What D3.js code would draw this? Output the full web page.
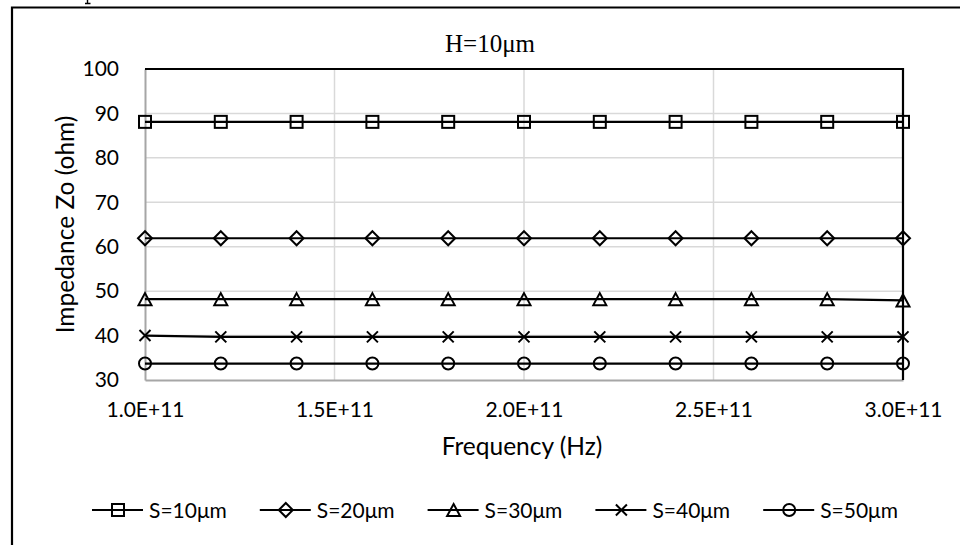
<!DOCTYPE html>
<html>
<head>
<meta charset="utf-8">
<script src="https://cdn.jsdelivr.net/npm/d3@7"></script>
<style>
  html, body { margin: 0; padding: 0; background: #fff; }
  svg { display: block; }
</style>
</head>
<body>
<svg id="chart" width="960" height="545"></svg>
<script>
// Frequency sweep points (Hz)
const frequencies = [1.0e11, 1.2e11, 1.4e11, 1.6e11, 1.8e11, 2.0e11, 2.2e11, 2.4e11, 2.6e11, 2.8e11, 3.0e11];

// Characteristic impedance (ohm) for each trace spacing S at H=10μm
const seriesNames = ["S=10μm", "S=20μm", "S=30μm", "S=40μm", "S=50μm"];
const s10 = [88.1, 88.1, 88.1, 88.1, 88.1, 88.1, 88.1, 88.1, 88.1, 88.1, 88.1];
const s20 = [61.9, 61.9, 61.9, 61.9, 61.9, 61.9, 61.9, 61.9, 61.9, 61.9, 61.9];
const s30 = [48.2, 48.2, 48.2, 48.2, 48.2, 48.2, 48.2, 48.2, 48.2, 48.2, 47.9];
const s40 = [40.0, 39.7, 39.7, 39.7, 39.7, 39.7, 39.7, 39.7, 39.7, 39.7, 39.7];
const s50 = [33.7, 33.7, 33.7, 33.7, 33.7, 33.7, 33.7, 33.7, 33.7, 33.7, 33.7];
const seriesValues = [s10, s20, s30, s40, s50];
const markerShapes = ["square", "diamond", "triangle", "cross", "circle"];

// Axis ticks
const yTicks = [30, 40, 50, 60, 70, 80, 90, 100];
const xTicks = [1.0e11, 1.5e11, 2.0e11, 2.5e11, 3.0e11];
const xTickLabels = ["1.0E+11", "1.5E+11", "2.0E+11", "2.5E+11", "3.0E+11"];

const titleText = "H=10μm";
const xTitle = "Frequency (Hz)";
const yTitle = "Impedance Zo (ohm)";

const svg = d3.select("#chart");
const sans = "Lato, 'Open Sans', sans-serif";

const plot = { left: 145, right: 903, top: 69, bottom: 380 };
const x = d3.scaleLinear().domain([1.0e11, 3.0e11]).range([plot.left, plot.right]);
const y = d3.scaleLinear().domain([30, 100]).range([plot.bottom, plot.top]);

// Outer chart frame (left and top edges)
svg.append("path")
  .attr("d", "M12,545 L12,7.5 L960,7.5")
  .attr("fill", "none").attr("stroke", "#000").attr("stroke-width", 2.2);

// Tail of a glyph from the caption line above the frame
svg.append("path")
  .attr("d", "M87.5,0 L87.5,3.5 M85,3.5 L90.5,3.5")
  .attr("fill", "none").attr("stroke", "#000").attr("stroke-width", 1.4);

// Chart title
svg.append("text").attr("x", 490).attr("y", 52)
  .attr("text-anchor", "middle")
  .attr("font-family", "'Liberation Serif', 'Times New Roman', serif")
  .attr("font-size", 25).attr("fill", "#000").text(titleText);

// Gridlines
const grid = svg.append("g");
grid.selectAll("line.h").data(yTicks.filter(t => t > 30 && t < 100)).join("line")
  .attr("x1", plot.left).attr("x2", plot.right)
  .attr("y1", d => y(d)).attr("y2", d => y(d))
  .attr("stroke", "#d9d9d9").attr("stroke-width", 1.5);
grid.selectAll("line.v").data(xTicks.slice(1, -1)).join("line")
  .attr("y1", plot.top).attr("y2", plot.bottom)
  .attr("x1", d => x(d)).attr("x2", d => x(d))
  .attr("stroke", "#d9d9d9").attr("stroke-width", 1.5);

// Axes
const yAxis = d3.axisLeft(y).tickValues(yTicks).tickSize(0).tickPadding(26);
const xAxis = d3.axisBottom(x).tickValues(xTicks).tickSize(0).tickPadding(22)
  .tickFormat((d, i) => xTickLabels[i]);

const gy = svg.append("g").attr("transform", `translate(${plot.left},0)`).call(yAxis);
const gx = svg.append("g").attr("transform", `translate(0,${plot.bottom})`).call(xAxis);
[gx, gy].forEach(g => {
  g.select(".domain").attr("stroke", "#a6a6a6").attr("stroke-width", 2);
  g.selectAll("text").attr("font-family", sans).attr("font-size", 21).attr("fill", "#000");
});

// Plot area top and right edges
svg.append("path")
  .attr("d", `M${plot.left},${plot.top} L${plot.right},${plot.top} L${plot.right},${plot.bottom}`)
  .attr("fill", "none").attr("stroke", "#000").attr("stroke-width", 2.2);

// Axis titles
svg.append("text").attr("x", 522).attr("y", 455)
  .attr("text-anchor", "middle").attr("font-family", sans).attr("font-size", 24.5)
  .text(xTitle);
svg.append("text")
  .attr("transform", `translate(74,${(plot.top + plot.bottom) / 2}) rotate(-90)`)
  .attr("text-anchor", "middle").attr("font-family", sans).attr("font-size", 24.5)
  .text(yTitle);

// Marker drawing
function drawMarker(g, shape, cx, cy) {
  const common = sel => sel.attr("fill", "none").attr("stroke", "#000").attr("stroke-width", 2);
  if (shape === "square") {
    common(g.append("rect").attr("x", cx - 6).attr("y", cy - 6).attr("width", 12).attr("height", 12));
  } else if (shape === "diamond") {
    common(g.append("path").attr("d", `M${cx},${cy - 7} L${cx + 7},${cy} L${cx},${cy + 7} L${cx - 7},${cy} Z`));
  } else if (shape === "triangle") {
    common(g.append("path").attr("d", `M${cx},${cy - 6} L${cx + 6.5},${cy + 6} L${cx - 6.5},${cy + 6} Z`));
  } else if (shape === "cross") {
    common(g.append("path").attr("d", `M${cx - 5.5},${cy - 5.5} L${cx + 5.5},${cy + 5.5} M${cx - 5.5},${cy + 5.5} L${cx + 5.5},${cy - 5.5}`));
  } else if (shape === "circle") {
    common(g.append("circle").attr("cx", cx).attr("cy", cy).attr("r", 6));
  }
}

// Series lines and markers
const line = d3.line().x(d => x(d.f)).y(d => y(d.v));
seriesValues.forEach((vals, si) => {
  const pts = frequencies.map((f, i) => ({ f, v: vals[i] }));
  const g = svg.append("g");
  g.append("path").datum(pts).attr("d", line)
    .attr("fill", "none").attr("stroke", "#000").attr("stroke-width", 2.2);
  pts.forEach(p => drawMarker(g, markerShapes[si], x(p.f), y(p.v)));
});

// Legend
const legend = svg.append("g");
seriesNames.forEach((name, i) => {
  const lx = 92 + i * 167.8, ly = 510;
  const item = legend.append("g");
  item.append("line").attr("x1", lx).attr("x2", lx + 51).attr("y1", ly).attr("y2", ly)
    .attr("stroke", "#000").attr("stroke-width", 2.2);
  drawMarker(item, markerShapes[i], lx + 26, ly);
  item.append("text").attr("x", lx + 57).attr("y", ly + 7.5)
    .attr("font-family", sans).attr("font-size", 21).text(name);
});
</script>
</body>
</html>
